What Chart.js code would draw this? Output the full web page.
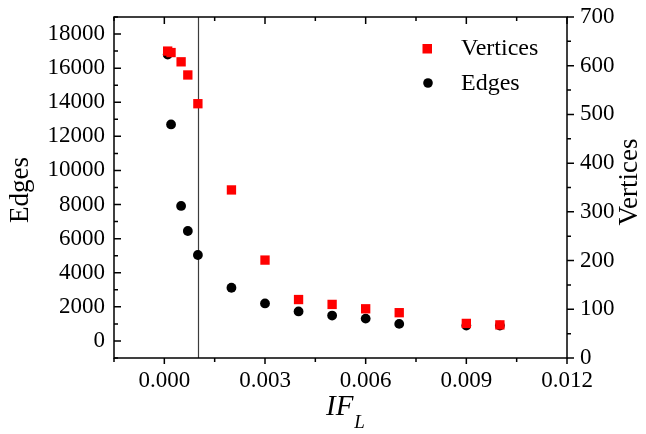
<!DOCTYPE html>
<html>
<head>
<meta charset="utf-8">
<script src="https://cdn.jsdelivr.net/npm/chart.js@4.4.0/dist/chart.umd.min.js"></script>
<style>
  html, body { margin: 0; padding: 0; background: #fff; }
  canvas { display: block; }
</style>
</head>
<body>
<canvas id="graphChart" width="646" height="434"></canvas>
<script>
const ifL = [0.0001, 0.0002, 0.0005, 0.0007, 0.001, 0.002, 0.003, 0.004, 0.005, 0.006, 0.007, 0.009, 0.010];
const vertices = [630, 627, 608, 581, 522, 345, 201, 120, 110, 101, 93, 71, 68];
const edges = [16800, 12700, 7920, 6450, 5040, 3120, 2200, 1730, 1490, 1310, 1000, 900, 900];

const xTicks = [0, 0.003, 0.006, 0.009, 0.012];
const edgeTicks = [0, 2000, 4000, 6000, 8000, 10000, 12000, 14000, 16000, 18000];
const vertexTicks = [0, 100, 200, 300, 400, 500, 600, 700];
const threshold = 0.001;

const serif = "'Liberation Serif', 'Times New Roman', serif";

// minor ticks sit halfway between the labelled ones
function minorsOf(major, min, max) {
	const half = (major[1] - major[0]) / 2;
	const out = [major[0] - half].concat(major.map((v) => v + half));
	return out.filter((v) => v >= min - 1e-9 && v <= max + 1e-9);
}

function pairs(xs, ys) {
	return xs.map((x, i) => ({ x: x, y: ys[i] }));
}

// fixed box sizes, no extra room for overhanging labels
function fixBox(size, horizontal) {
	return (s) => {
		if (horizontal) s.height = size;
		else s.width = size;
		s.paddingTop = 0;
		s.paddingBottom = 0;
		s.paddingLeft = 0;
		s.paddingRight = 0;
	};
}

const axesPlugin = {
	id: "axesPlugin",
	beforeDatasetsDraw(chart) {
		const { ctx, chartArea: a, scales } = chart;
		const px = Math.round(scales.x.getPixelForValue(threshold)) + 0.5;
		ctx.save();
		ctx.strokeStyle = "#3c3c3c";
		ctx.lineWidth = 1.2;
		ctx.beginPath();
		ctx.moveTo(px, a.top);
		ctx.lineTo(px, a.bottom);
		ctx.stroke();
		ctx.restore();
	},
	afterDatasetsDraw(chart) {
		const { ctx, chartArea: a, scales } = chart;
		const x = scales.x, y = scales.y, y1 = scales.y1;
		ctx.save();
		ctx.strokeStyle = "#000";
		ctx.lineWidth = 1.5;
		ctx.strokeRect(a.left, a.top, a.right - a.left, a.bottom - a.top);

		ctx.beginPath();
		const xMinor = minorsOf(xTicks, x.min, x.max);
		xTicks.forEach((v) => {
			const p = x.getPixelForValue(v);
			ctx.moveTo(p, a.bottom); ctx.lineTo(p, a.bottom + 6);
			ctx.moveTo(p, a.top); ctx.lineTo(p, a.top + 7);
		});
		xMinor.forEach((v) => {
			const p = x.getPixelForValue(v);
			ctx.moveTo(p, a.bottom); ctx.lineTo(p, a.bottom + 4);
			ctx.moveTo(p, a.top); ctx.lineTo(p, a.top + 4);
		});
		edgeTicks.forEach((v) => {
			const p = y.getPixelForValue(v);
			ctx.moveTo(a.left, p); ctx.lineTo(a.left + 7, p);
		});
		minorsOf(edgeTicks, y.min, y.max).forEach((v) => {
			const p = y.getPixelForValue(v);
			ctx.moveTo(a.left, p); ctx.lineTo(a.left + 4, p);
		});
		vertexTicks.forEach((v) => {
			const p = y1.getPixelForValue(v);
			ctx.moveTo(a.right, p); ctx.lineTo(a.right + 7, p);
		});
		minorsOf(vertexTicks, y1.min, y1.max).forEach((v) => {
			const p = y1.getPixelForValue(v);
			ctx.moveTo(a.right, p); ctx.lineTo(a.right + 4, p);
		});
		ctx.stroke();
		ctx.restore();
	},
	afterDraw(chart) {
		const { ctx } = chart;
		ctx.save();
		ctx.fillStyle = "#000";

		// axis titles
		ctx.font = "27px " + serif;
		ctx.textAlign = "center";
		ctx.textBaseline = "middle";
		ctx.save();
		ctx.translate(21, 190);
		ctx.rotate(-Math.PI / 2);
		ctx.fillText("Edges", 0, 0);
		ctx.restore();
		ctx.save();
		ctx.translate(630, 182);
		ctx.rotate(-Math.PI / 2);
		ctx.fillText("Vertices", 0, 0);
		ctx.restore();

		ctx.textAlign = "left";
		ctx.textBaseline = "alphabetic";
		ctx.font = "italic 29px " + serif;
		ctx.fillText("IF", 326, 415);
		const w = ctx.measureText("IF").width;
		ctx.font = "italic 19px " + serif;
		ctx.fillText("L", 326 + w + 1, 428);

		// legend
		ctx.font = "24px " + serif;
		ctx.textBaseline = "middle";
		ctx.fillStyle = "#ff0000";
		ctx.fillRect(422.5, 44, 9.5, 9.5);
		ctx.fillStyle = "#000";
		ctx.beginPath();
		ctx.arc(428, 83, 4.8, 0, Math.PI * 2);
		ctx.fill();
		ctx.fillText("Vertices", 461, 49);
		ctx.fillText("Edges", 461, 84);
		ctx.restore();
	},
};

const tickFont = { family: serif, size: 23 };

new Chart(document.getElementById("graphChart"), {
	type: "scatter",
	data: {
		datasets: [
			{
				label: "Vertices",
				data: pairs(ifL, vertices),
				yAxisID: "y1",
				pointStyle: "rect",
				pointRadius: 6.6,
				pointBorderWidth: 0,
				backgroundColor: "#ff0000",
				borderColor: "#ff0000",
			},
			{
				label: "Edges",
				data: pairs(ifL, edges),
				yAxisID: "y",
				pointStyle: "circle",
				pointRadius: 4.9,
				pointBorderWidth: 0,
				backgroundColor: "#000000",
				borderColor: "#000000",
			},
		],
	},
	options: {
		responsive: false,
		animation: false,
		layout: { padding: { top: 17, left: 0, right: 0, bottom: 0 } },
		plugins: { legend: { display: false }, tooltip: { enabled: false } },
		scales: {
			x: {
				type: "linear",
				position: "bottom",
				min: -0.0015,
				max: 0.012,
				afterBuildTicks: (s) => { s.ticks = xTicks.map((v) => ({ value: v })); },
				afterFit: fixBox(76, true),
				grid: { display: false, drawTicks: false },
				border: { display: false },
				ticks: {
					font: tickFont,
					color: "#000",
					padding: 9,
					autoSkip: false,
					maxRotation: 0,
					callback: (v) => Number(v).toFixed(3),
				},
			},
			y: {
				type: "linear",
				position: "left",
				min: -1000,
				max: 19000,
				afterBuildTicks: (s) => { s.ticks = edgeTicks.map((v) => ({ value: v })); },
				afterFit: fixBox(114, false),
				grid: { display: false, drawTicks: false },
				border: { display: false },
				ticks: { font: tickFont, color: "#000", padding: 9, autoSkip: false, callback: (v) => String(v) },
			},
			y1: {
				type: "linear",
				position: "right",
				min: 0,
				max: 700,
				afterBuildTicks: (s) => { s.ticks = vertexTicks.map((v) => ({ value: v })); },
				afterFit: fixBox(79, false),
				grid: { display: false, drawTicks: false },
				border: { display: false },
				ticks: { font: tickFont, color: "#000", padding: 13, autoSkip: false, callback: (v) => String(v) },
			},
		},
	},
	plugins: [axesPlugin],
});
</script>
</body>
</html>
